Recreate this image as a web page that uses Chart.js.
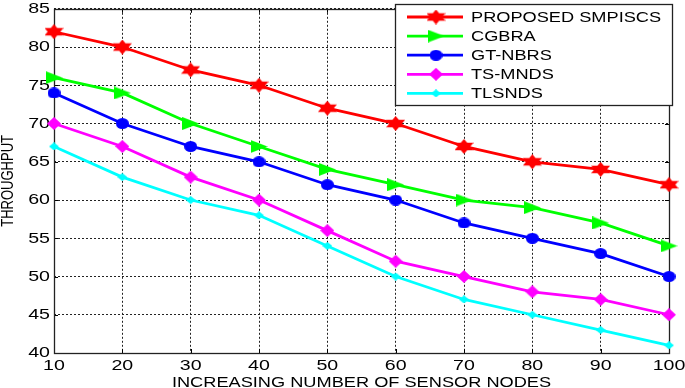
<!DOCTYPE html>
<html>
<head>
<meta charset="utf-8">
<script src="https://cdn.jsdelivr.net/npm/chart.js@4.4.1/dist/chart.umd.min.js"></script>
<style>
  html, body { margin: 0; padding: 0; background: #fff; }
  canvas { display: block; }
</style>
</head>
<body>
<canvas id="throughputChart" width="685" height="388"></canvas>
<script>
// values
const sensorNodes = [10, 20, 30, 40, 50, 60, 70, 80, 90, 100];
const seriesNames = ["PROPOSED SMPISCS", "CGBRA", "GT-NBRS", "TS-MNDS", "TLSNDS"];
const proposedSmpiscs = [82, 80, 77, 75, 72, 70, 67, 65, 64, 62];
const cgbra = [76, 74, 70, 67, 64, 62, 60, 59, 57, 54];
const gtNbrs = [74, 70, 67, 65, 62, 60, 57, 55, 53, 50];
const tsMnds = [70, 67, 63, 60, 56, 52, 50, 48, 47, 45];
const tlsnds = [67, 63, 60, 58, 54, 50, 47, 45, 43, 41];
const xTicks = [10, 20, 30, 40, 50, 60, 70, 80, 90, 100];
const yTicks = [40, 45, 50, 55, 60, 65, 70, 75, 80, 85];
const xTitle = "INCREASING NUMBER OF SENSOR NODES";
const yTitle = "THROUGHPUT";

// the source image is stretched sideways, so text is widened to match
const TEXT_STRETCH = 1.3;
const TICK_STRETCH = 1.4;
const FONT = "'Liberation Sans', Arial, sans-serif";

// small canvases used as point styles (matlab-like markers)
function makeMarker(w, h, color, draw) {
  const c = document.createElement("canvas");
  c.width = w;
  c.height = h;
  const g = c.getContext("2d");
  g.fillStyle = color;
  g.translate(w / 2, h / 2);
  g.scale(w / 2, h / 2);
  g.beginPath();
  draw(g);
  g.closePath();
  g.fill();
  return c;
}

const hexagram = (g) => {
  for (let i = 0; i < 12; i++) {
    const a = (-90 + i * 30) * Math.PI / 180;
    const r = i % 2 ? 0.577 : 1;
    const px = Math.cos(a) * r / 0.866;
    const py = Math.sin(a) * r;
    i === 0 ? g.moveTo(px, py) : g.lineTo(px, py);
  }
};
const triangleRight = (g) => { g.moveTo(1, 0); g.lineTo(-1, -1); g.lineTo(-1, 1); };
const ellipse = (g) => { g.arc(0, 0, 1, 0, Math.PI * 2); };
const diamond = (g) => { g.moveTo(0, -1); g.lineTo(1, 0); g.lineTo(0, 1); g.lineTo(-1, 0); };

const seriesColors = ["#ff0000", "#00ff00", "#0000ff", "#ff00ff", "#00ffff"];
const markers = [
  makeMarker(19, 15, seriesColors[0], hexagram),
  makeMarker(17, 13, seriesColors[1], triangleRight),
  makeMarker(13, 11, seriesColors[2], ellipse),
  makeMarker(14, 13, seriesColors[3], diamond),
  makeMarker(10, 8, seriesColors[4], diamond),
];

const seriesValues = [proposedSmpiscs, cgbra, gtNbrs, tsMnds, tlsnds];

const datasets = seriesValues.map((values, k) => ({
  label: seriesNames[k],
  data: sensorNodes.map((x, i) => ({ x: x, y: values[i] })),
  borderColor: seriesColors[k],
  backgroundColor: seriesColors[k],
  borderWidth: 2.8,
  pointStyle: markers[k],
  pointRadius: 6,
  tension: 0,
  clip: false,
}));

function stretchedText(ctx, text, x, y, sx) {
  ctx.save();
  ctx.translate(x, y);
  ctx.scale(sx, 1);
  ctx.fillText(text, 0, 0);
  ctx.restore();
}

// Box around the plot, inward tick marks, tick labels and axis titles.
const framePlugin = {
  id: "matlabFrame",
  beforeDatasetsDraw: (chart) => {
    const { ctx, chartArea: a, scales } = chart;
    ctx.save();
    ctx.strokeStyle = "#000";
    ctx.lineWidth = 1;
    ctx.beginPath();
    scales.x.ticks.forEach((t) => {
      const px = Math.round(scales.x.getPixelForValue(t.value)) + 0.5;
      ctx.moveTo(px, a.bottom); ctx.lineTo(px, a.bottom - 4);
      ctx.moveTo(px, a.top); ctx.lineTo(px, a.top + 4);
    });
    scales.y.ticks.forEach((t) => {
      const py = Math.round(scales.y.getPixelForValue(t.value)) + 0.5;
      ctx.moveTo(a.left, py); ctx.lineTo(a.left + 4, py);
      ctx.moveTo(a.right, py); ctx.lineTo(a.right - 4, py);
    });
    ctx.stroke();
    ctx.strokeStyle = "#222";
    ctx.lineWidth = 1.3;
    ctx.strokeRect(Math.round(a.left) + 0.5, Math.round(a.top) + 0.5,
      Math.round(a.right - a.left), Math.round(a.bottom - a.top));

    // tick labels from the library's scales
    ctx.fillStyle = "#000";
    ctx.font = "14px " + FONT;
    ctx.textAlign = "center";
    ctx.textBaseline = "middle";
    scales.x.ticks.forEach((t) => {
      stretchedText(ctx, String(t.value), scales.x.getPixelForValue(t.value), 366.5, TICK_STRETCH);
    });
    ctx.textAlign = "right";
    scales.y.ticks.forEach((t) => {
      stretchedText(ctx, String(t.value), a.left - 4, scales.y.getPixelForValue(t.value) + 0.5, TICK_STRETCH);
    });

    // axis titles
    ctx.textAlign = "center";
    ctx.textBaseline = "alphabetic";
    stretchedText(ctx, xTitle, (a.left + a.right) / 2, 387, TEXT_STRETCH);
    ctx.font = "13px " + FONT;
    ctx.textBaseline = "middle";
    ctx.translate(8, (a.top + a.bottom) / 2);
    ctx.rotate(-Math.PI / 2);
    ctx.scale(1, TEXT_STRETCH);
    ctx.fillText(yTitle, 0, 0);
    ctx.restore();
  },
};

// Legend box in the upper right of the plot, as in the figure.
const legendPlugin = {
  id: "boxLegend",
  afterDatasetsDraw: (chart) => {
    const { ctx } = chart;
    const box = { left: 395.5, top: 4.5, width: 277, height: 101 };
    ctx.save();
    ctx.fillStyle = "#fff";
    ctx.fillRect(box.left, box.top, box.width, box.height);
    ctx.strokeStyle = "#222";
    ctx.lineWidth = 1.3;
    ctx.strokeRect(box.left, box.top, box.width, box.height);
    ctx.font = "14px " + FONT;
    ctx.textBaseline = "middle";
    ctx.textAlign = "left";
    chart.data.datasets.forEach((ds, k) => {
      const y = 17 + k * 19.1;
      ctx.strokeStyle = ds.borderColor;
      ctx.lineWidth = 2.8;
      ctx.beginPath();
      ctx.moveTo(407, y);
      ctx.lineTo(463, y);
      ctx.stroke();
      const m = ds.pointStyle;
      ctx.drawImage(m, 436 - m.width / 2, y - m.height / 2);
      ctx.fillStyle = "#000";
      stretchedText(ctx, ds.label, 471, y + 1, TEXT_STRETCH);
    });
    ctx.restore();
  },
};

new Chart(document.getElementById("throughputChart").getContext("2d"), {
  type: "line",
  data: { datasets: datasets },
  options: {
    responsive: false,
    animation: false,
    layout: { padding: { top: 4, right: 16, left: 0, bottom: 0 } },
    plugins: {
      legend: { display: false },
      tooltip: { enabled: false },
    },
    scales: {
      x: {
        type: "linear",
        min: 10,
        max: 100,
        afterBuildTicks: (scale) => {
          scale.ticks = xTicks.map((v) => ({ value: v }));
        },
        afterFit: (scale) => {
          scale.height = 35;
          scale.paddingLeft = 0;
          scale.paddingRight = 0;
        },
        ticks: { display: false },
        grid: { color: "#222", lineWidth: 1, drawTicks: false },
        border: { display: false, dash: [2, 2] },
      },
      y: {
        type: "linear",
        min: 40,
        max: 85,
        afterBuildTicks: (scale) => {
          scale.ticks = yTicks.map((v) => ({ value: v }));
        },
        afterFit: (scale) => {
          scale.width = 54;
          scale.paddingTop = 0;
          scale.paddingBottom = 0;
        },
        ticks: { display: false },
        grid: { color: "#222", lineWidth: 1, drawTicks: false },
        border: { display: false, dash: [2, 2] },
      },
    },
  },
  plugins: [framePlugin, legendPlugin],
});
</script>
</body>
</html>
